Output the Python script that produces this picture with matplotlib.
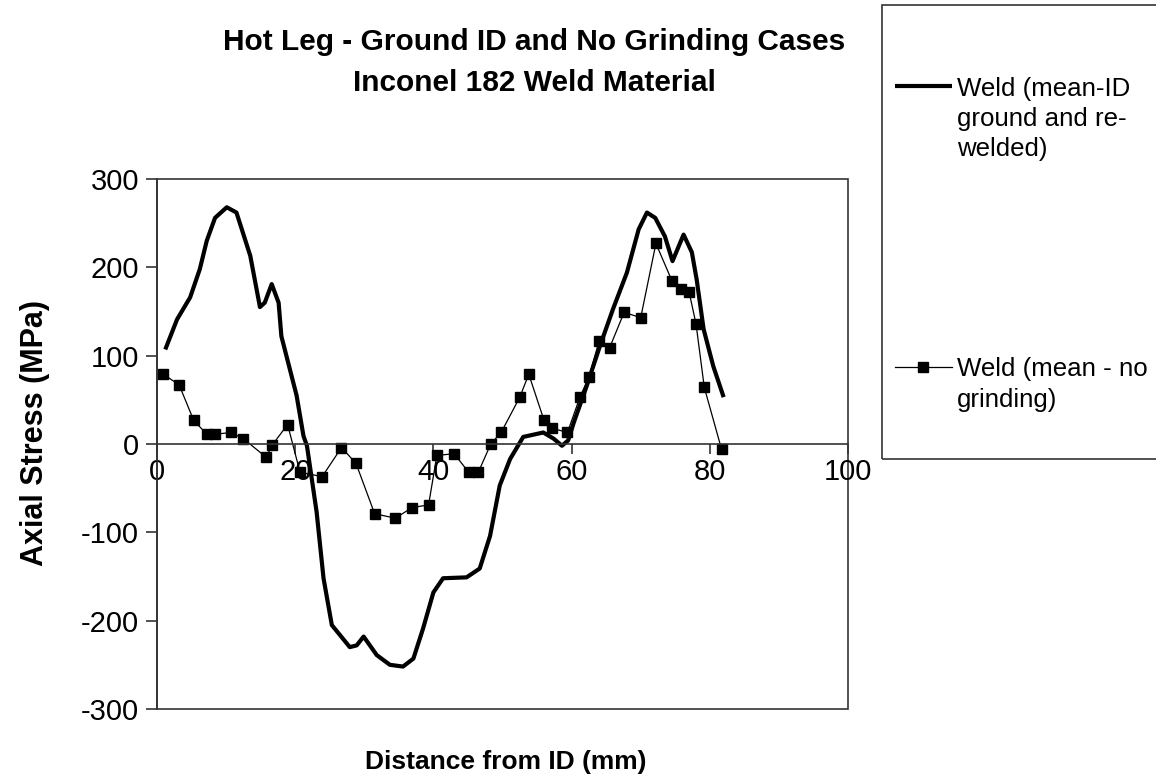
import matplotlib
matplotlib.use('Agg')
import matplotlib.pyplot as plt
from matplotlib.patches import Rectangle

plt.rcParams['font.family'] = ['Liberation Sans', 'DejaVu Sans']

# weld, ID ground and re-welded (thick line)
ground_x = [1.2, 2.9, 4.8, 6.2, 7.2, 8.4, 10.1, 11.5, 13.5, 14.9, 15.6, 16.6, 17.6, 18.0,
            20.2, 21.2, 21.7, 23.1, 24.1, 25.3, 27.9, 28.9, 29.9, 31.8, 33.7, 35.6, 37.1,
            38.5, 40.0, 41.4, 44.8, 46.7, 48.2, 49.6, 51.1, 53.0, 55.9, 57.4, 58.6, 59.5,
            60.3, 62.2, 64.1, 66.0, 68.0, 69.7, 70.9, 72.1, 73.5, 74.6, 76.2, 77.4, 78.1,
            79.1, 80.5, 82.0]
ground_y = [107, 141, 166, 198, 230, 256, 268, 262, 213, 155, 160, 181, 160, 122,
            55, 9, -2, -77, -152, -205, -230, -228, -218, -239, -250, -252, -243,
            -209, -168, -152, -151, -141, -104, -47, -17, 8, 13, 6, -2, 4,
            24, 66, 111, 153, 194, 243, 262, 256, 235, 207, 237, 217, 186,
            130, 88, 53]

# weld, no grinding (squares)
nogrind_x = [0.9, 3.2, 5.3, 7.2, 8.4, 10.7, 12.5, 15.8, 16.7, 18.9, 20.7, 23.9, 26.7,
             28.8, 31.5, 34.5, 36.9, 39.3, 40.5, 43.0, 45.1, 46.5, 48.3, 49.8, 52.5,
             53.8, 56.0, 57.1, 59.4, 61.2, 62.5, 64.0, 65.5, 67.6, 70.0, 72.2, 74.5,
             75.9, 77.0, 78.0, 79.2, 81.7]
nogrind_y = [79, 67, 27, 11, 11, 13, 6, -15, -1, 22, -32, -37, -4,
             -22, -79, -84, -72, -69, -13, -11, -32, -32, 0, 13, 53,
             79, 27, 18, 13, 53, 76, 117, 109, 149, 143, 227, 185,
             176, 172, 136, 64, -6]

labels = ['Weld (mean-ID\nground and re-\nwelded)', 'Weld (mean - no\ngrinding)']
xticks = [0, 20, 40, 60, 80, 100]
yticks = [-300, -200, -100, 0, 100, 200, 300]

edge = '#333333'

fig = plt.figure(figsize=(11.56, 7.84), dpi=100)
ax = fig.add_axes([0.1358, 0.0957, 0.5978, 0.676])

l1, = ax.plot(ground_x, ground_y, color='black', lw=3.0, solid_capstyle='butt',
              solid_joinstyle='round')
l2, = ax.plot(nogrind_x, nogrind_y, color='black', lw=0.9, marker='s', ms=7.5,
              markeredgecolor='black', markerfacecolor='black')

ax.set_xlim(0, 100)
ax.set_ylim(-300, 300)
ax.set_xticks(xticks)
ax.set_yticks(yticks)

# x axis sits on y=0, box drawn round the plot
ax.spines['bottom'].set_position(('data', 0))
for s in ['left', 'bottom']:
    ax.spines[s].set_color(edge)
    ax.spines[s].set_linewidth(1.2)
for s in ['top', 'right']:
    ax.spines[s].set_visible(False)
ax.add_patch(Rectangle((0, 0), 1, 1, transform=ax.transAxes, fill=False,
                       edgecolor=edge, lw=1.2, clip_on=False, zorder=0.5))

ax.tick_params(axis='x', direction='out', length=7, width=1.2, color=edge,
               labelsize=21, pad=3)
ax.tick_params(axis='y', direction='out', length=8, width=1.2, color=edge,
               labelsize=21, pad=5)
ax.set_yticklabels([str(v) for v in yticks])

ax.set_xlabel('Distance from ID (mm)', fontsize=19, fontweight='bold')
ax.xaxis.set_label_coords(0.505, -0.078)
ax.set_ylabel('Axial Stress (MPa)', fontsize=22, fontweight='bold')
ax.yaxis.set_label_coords(-0.155, 0.52)

fig.text(0.462, 0.92, 'Hot Leg - Ground ID and No Grinding Cases\nInconel 182 Weld Material',
         ha='center', va='center', fontsize=21.5, fontweight='bold', linespacing=1.6)

# legend box (runs off the right edge like the original)
fig.patches.append(Rectangle((0.763, 0.4145), 0.3, 0.579, transform=fig.transFigure,
                             fill=False, edgecolor=edge, lw=1.2, figure=fig))
leg = fig.legend([l1, l2], labels, loc='upper left', bbox_to_anchor=(0.765, 0.915),
                 frameon=False, fontsize=18.6, handlelength=2.2, handletextpad=0.2,
                 labelspacing=7.6, borderaxespad=0)
for t in leg.get_texts():
    t.set_linespacing(1.32)
for col in leg._legend_handle_box.get_children():
    for item in col.get_children():
        item.align = 'top'

fig.savefig('out.png', dpi=100)
